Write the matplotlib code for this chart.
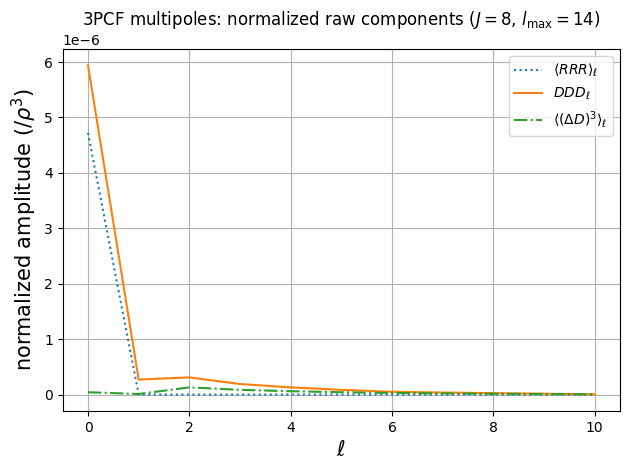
import numpy as np
import matplotlib.pyplot as plt

# ====== data ======
ell = np.arange(11)
rrr = [4.72e-6, 0.0, 0.0, 0.0, 0.0, 0.0, 0.0, 0.0, 0.0, 0.0, 0.0]
ddd = [5.94e-6, 0.27e-6, 0.31e-6, 0.19e-6, 0.13e-6, 0.085e-6, 0.05e-6, 0.036e-6, 0.025e-6, 0.015e-6, 0.005e-6]
dcube = [0.042e-6, 0.01e-6, 0.13e-6, 0.085e-6, 0.06e-6, 0.042e-6, 0.03e-6, 0.02e-6, 0.015e-6, 0.01e-6, 0.005e-6]

# ====== plot ======
fig, ax = plt.subplots(figsize=(6.3, 4.7))

ax.plot(ell, rrr, ":", label=r"$\langle RRR\rangle_\ell$")
ax.plot(ell, ddd, "-", label=r"$DDD_\ell$")
ax.plot(ell, dcube, "-.", label=r"$\langle(\Delta D)^3\rangle_\ell$")

ax.set_xlabel(r"$\ell$", fontsize=15)
ax.set_ylabel(r"normalized amplitude ($/\rho^3$)", fontsize=15)
ax.set_title(r"3PCF multipoles: normalized raw components ($J=8$, $l_{\max}=14$)")
ax.grid(True)
ax.legend()

# layout matched to reference
fig.subplots_adjust(left=0.0995, right=0.984, top=0.896, bottom=0.1255)
plt.savefig("out.png", dpi=100)
plt.close()
